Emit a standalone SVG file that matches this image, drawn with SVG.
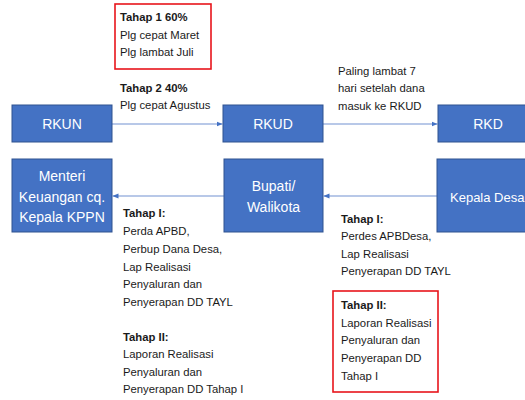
<svg xmlns="http://www.w3.org/2000/svg" width="525" height="400" viewBox="0 0 525 400">
<style>
.box{fill:#4472c4;stroke:#2f528f;stroke-width:1}
.bt{font-family:"Liberation Sans",Arial,sans-serif;font-size:14px;fill:#ffffff;text-anchor:middle}
.t{font-family:"Liberation Sans",Arial,sans-serif;font-size:11.3px;fill:#1a1a1a}
.b{font-weight:bold}
.red{fill:none;stroke:#e8141b;stroke-width:1.6}
.conn{stroke:#7392d1;stroke-width:1.2;fill:none}
</style>
<defs>
<marker id="ah" viewBox="0 0 10 10" refX="10" refY="5" markerWidth="6" markerHeight="6" orient="auto" markerUnits="userSpaceOnUse">
<path d="M0,1 L10,5 L0,9 z" fill="#4472c4"/>
</marker>
</defs>
<rect width="525" height="400" fill="#ffffff"/>
<g id="connectors">
<line class="conn" x1="112" y1="124" x2="222.5" y2="124" marker-end="url(#ah)"/>
<line class="conn" x1="323" y1="124" x2="437.5" y2="124" marker-end="url(#ah)"/>
<line class="conn" x1="224" y1="196" x2="112.5" y2="196" marker-end="url(#ah)"/>
<line class="conn" x1="437" y1="196" x2="323.5" y2="196" marker-end="url(#ah)"/>
</g>
<g id="rkun"><rect class="box" x="12" y="105" width="100" height="37"/><text class="bt" x="62" y="129">RKUN</text></g>
<g id="rkud"><rect class="box" x="223" y="105" width="100" height="37"/><text class="bt" x="273" y="129">RKUD</text></g>
<g id="rkd"><rect class="box" x="438" y="105" width="100" height="37"/><text class="bt" x="488" y="129">RKD</text></g>
<g id="menteri"><rect class="box" x="12" y="159" width="100" height="73"/>
<text class="bt"><tspan x="62" y="181">Menteri</tspan><tspan x="62" y="201.5">Keuangan cq.</tspan><tspan x="62" y="222">Kepala KPPN</tspan></text></g>
<g id="bupati"><rect class="box" x="224" y="159" width="99" height="73"/>
<text class="bt"><tspan x="273.5" y="190.5">Bupati/</tspan><tspan x="273.5" y="211.5">Walikota</tspan></text></g>
<g id="kepaladesa"><rect class="box" x="437" y="159" width="101" height="73"/>
<text class="bt" x="450" y="201.5" style="text-anchor:start;font-size:13px">Kepala Desa</text></g>
<g id="tahap1box"><rect class="red" x="115" y="4" width="96" height="65"/>
<text class="t"><tspan class="b" x="120" y="21">Tahap 1 60%</tspan><tspan x="120" y="38.5">Plg cepat Maret</tspan><tspan x="120" y="56">Plg lambat Juli</tspan></text></g>
<g id="tahap2label"><text class="t"><tspan class="b" x="120" y="92">Tahap 2 40%</tspan><tspan x="120" y="109">Plg cepat Agustus</tspan></text></g>
<g id="rkdlabel"><text class="t"><tspan x="338" y="75">Paling lambat 7</tspan><tspan x="338" y="92">hari setelah dana</tspan><tspan x="338" y="110">masuk ke RKUD</tspan></text></g>
<g id="leftlabel"><text class="t">
<tspan class="b" x="123" y="216.5">Tahap I:</tspan>
<tspan x="123" y="234.5">Perda APBD,</tspan>
<tspan x="123" y="252.5">Perbup Dana Desa,</tspan>
<tspan x="123" y="270.5">Lap Realisasi</tspan>
<tspan x="123" y="288">Penyaluran dan</tspan>
<tspan x="123" y="305.5">Penyerapan DD TAYL</tspan>
<tspan class="b" x="123" y="340.5">Tahap II:</tspan>
<tspan x="123" y="358">Laporan Realisasi</tspan>
<tspan x="123" y="375.5">Penyaluran dan</tspan>
<tspan x="123" y="393">Penyerapan DD Tahap I</tspan>
</text></g>
<g id="rightlabel"><text class="t">
<tspan class="b" x="341" y="222.5">Tahap I:</tspan>
<tspan x="341" y="240">Perdes APBDesa,</tspan>
<tspan x="341" y="257.5">Lap Realisasi</tspan>
<tspan x="341" y="275">Penyerapan DD TAYL</tspan>
</text></g>
<g id="tahap2box"><rect class="red" x="333" y="291" width="105" height="101"/>
<text class="t">
<tspan class="b" x="341" y="309">Tahap II:</tspan>
<tspan x="341" y="326.5">Laporan Realisasi</tspan>
<tspan x="341" y="344">Penyaluran dan</tspan>
<tspan x="341" y="362">Penyerapan DD</tspan>
<tspan x="341" y="380">Tahap I</tspan>
</text></g>
</svg>
